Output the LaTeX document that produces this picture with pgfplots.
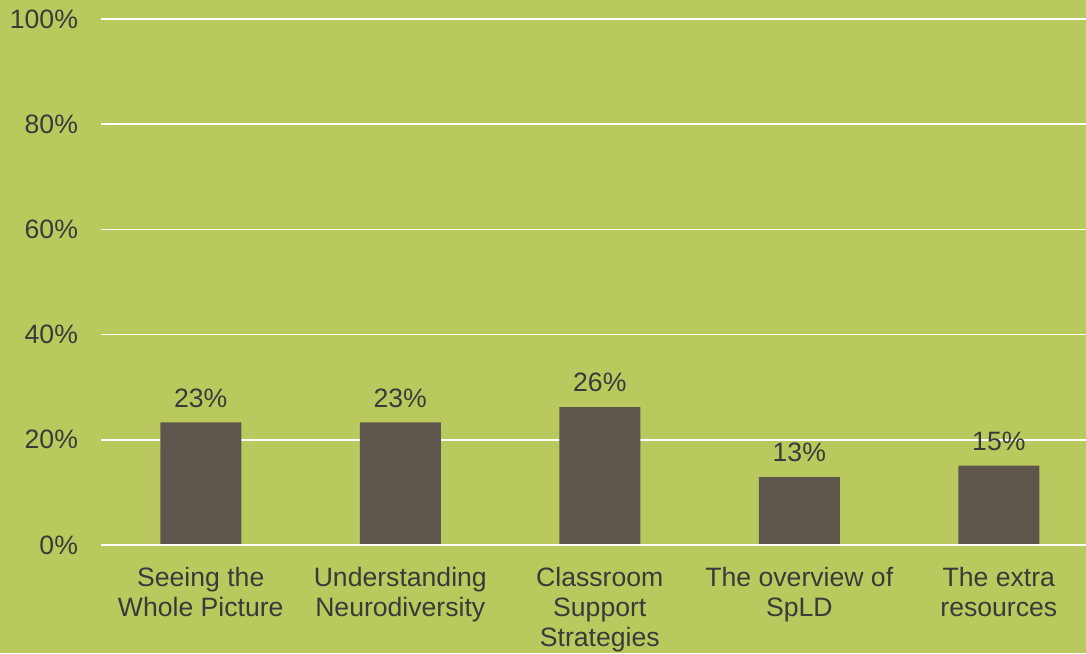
\documentclass[border=0pt]{standalone}
\usepackage{pgfplots}
\pgfplotsset{compat=1.18}
\usepackage{fontspec}
\setmainfont{Liberation Sans}
\definecolor{bg}{HTML}{BAC95E}
\definecolor{bar}{HTML}{5E564D}
\definecolor{txt}{HTML}{3A3A3A}
\begin{document}
\begin{tikzpicture}
\fill[bg] (0,0) rectangle (543pt,326.5pt);
\begin{axis}[
  at={(50.5pt,54pt)}, anchor=south west,
  scale only axis, width=492.5pt, height=263pt,
  xmin=-0.5, xmax=4.437, ymin=0, ymax=100,
  axis line style={draw=none},
  ytick={0,20,40,60,80,100},
  yticklabels={0\%,20\%,40\%,60\%,80\%,100\%},
  xtick={0,1,2,3,4},
  xticklabels={Seeing the\\Whole Picture, Understanding\\Neurodiversity, Classroom\\Support\\Strategies, The overview of\\SpLD, The extra\\resources},
  major tick length=0pt, tick style={draw=none},
  ymajorgrids, grid style={white, line width=0.8pt},
  every tick label/.append style={font=\fontsize{13.3}{15}\selectfont, text=txt},
  xticklabel style={align=center, anchor=north, yshift=-7.5pt},
  yticklabel style={anchor=east, xshift=-8pt},
  /pgf/number format/assume math mode=true,
  clip=false,
]
\addplot[ybar, bar width=40.5pt, fill=bar, draw=none,
  nodes near coords={\pgfmathprintnumber[fixed,precision=0]{\pgfplotspointmeta}\%},
  every node near coord/.append style={font=\fontsize{13.3}{15}\selectfont, text=txt, anchor=south, yshift=4pt}]
  coordinates {(0,23.3) (1,23.3) (2,26.2) (3,12.9) (4,15.1)};
\addplot[white, line width=0.8pt, forget plot] coordinates {(-0.5,0) (4.437,0)};
\end{axis}
\pgfresetboundingbox
\path[use as bounding box] (0,0) rectangle (543pt,326.5pt);
\end{tikzpicture}
\end{document}
